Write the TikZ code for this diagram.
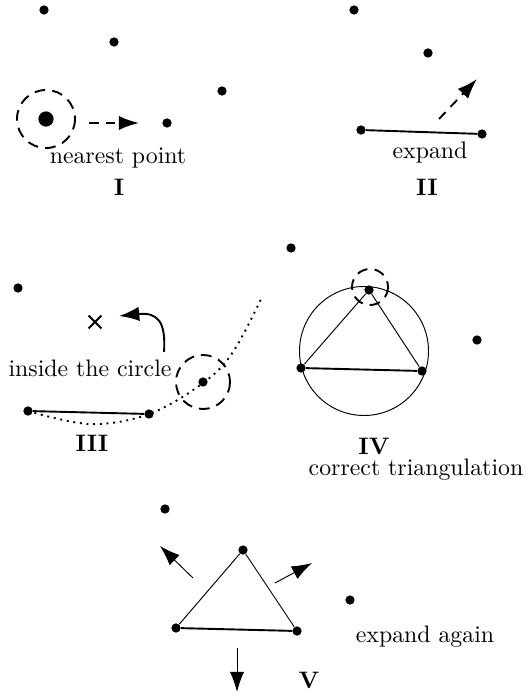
\documentclass[tikz,border=0pt]{standalone}
\usetikzlibrary{arrows.meta,shapes.misc}
\begin{document}
\begin{tikzpicture}[x=0.42pt,y=-0.42pt,
  pt/.style={circle,fill=black,inner sep=0pt,minimum size=3.9pt},
  bigpt/.style={circle,fill=black,inner sep=0pt,minimum size=6.4pt},
  dcirc/.style={draw,thick,dash pattern=on 4.5pt off 3pt},
  dline/.style={thick,dash pattern=on 4pt off 3pt},
  edge/.style={thick},
  tri/.style={line width=0.4pt},
  arr/.style={-{Latex[length=8.5pt,width=6pt]}},
  lbl/.style={font=\normalsize,inner sep=0pt}]
\useasboundingbox (0,0) rectangle (530,698);
% Panel I
\node[pt] (a1) at (44,10) {};
\node[pt] (a2) at (114,42) {};
\node[pt] (a3) at (222,91) {};
\node[pt] (a4) at (167,123) {};
\node[bigpt] (a0) at (46,119) {};
\draw[dcirc] (a0) circle (29);
\coordinate (ia) at (89,123);
\coordinate (ib) at (139,123);
\draw[arr,dline] (ia) -- (ib);
\node[lbl] (t1) at (118,158) {nearest point};
\node[lbl] (r1) at (119,187) {\textbf{I}};
% Panel II
\node[pt] (b1) at (354,10) {};
\node[pt] (b2) at (428,53) {};
\node[pt] (b3) at (361,130) {};
\node[pt] (b4) at (482,134) {};
\draw[edge] (b3) -- (b4);
\coordinate (ea) at (439,119);
\coordinate (eb) at (477,79);
\draw[arr,dline] (ea) -- (eb);
\node[lbl] (t2) at (430,153) {expand};
\node[lbl] (r2) at (427,187) {\textbf{II}};
% Panel III
\node[pt] (c1) at (18,288) {};
\node[draw,cross out,thick,inner sep=0pt,minimum size=4.6pt] (cx) at (95,322) {};
\node[pt] (c2) at (28,411) {};
\node[pt] (c3) at (149,414) {};
\node[pt] (c4) at (203,382) {};
\draw[edge] (c2) -- (c3);
\draw[dotted,thick] plot[smooth,tension=0.6] coordinates {(28,411) (90,424) (149,414) (203,383) (233,352) (262,297)};
\draw[dcirc] (c4) circle (27);
\coordinate (ca) at (164,352);
\coordinate (cb) at (119,316);
\draw[arr,thick] (ca) .. controls (166,322) and (158,312) .. (cb);
\node[lbl] (t3) at (90,368) {inside the circle};
\node[lbl] (r3) at (92,443) {\textbf{III}};
% Panel IV
\node[pt] (d1) at (291,248) {};
\node[pt] (d2) at (477,340) {};
\draw[tri] (364,351) circle (64.5);
\node[pt] (d3) at (369,290) {};
\node[pt] (d4) at (301,368) {};
\node[pt] (d5) at (422,371) {};
\draw[tri] (d4) -- (d3) -- (d5);
\draw[edge] (d4) -- (d5);
\draw[dcirc] (370,287) circle (18);
\node[lbl] (r4) at (374,446) {\textbf{IV}};
\node[lbl] (t4) at (416,470) {correct triangulation};
% Panel V
\node[pt] (e1) at (165,509) {};
\node[pt] (e2) at (243,550) {};
\node[pt] (e3) at (176,628) {};
\node[pt] (e4) at (297,631) {};
\node[pt] (e5) at (350,600) {};
\draw[tri] (e3) -- (e2) -- (e4);
\draw[edge] (e3) -- (e4);
\coordinate (v1a) at (193,578);
\coordinate (v1b) at (160,546);
\coordinate (v2a) at (275,583);
\coordinate (v2b) at (312,563);
\coordinate (v3a) at (237,648);
\coordinate (v3b) at (237,692);
\draw[arr,tri] (v1a) -- (v1b);
\draw[arr,tri] (v2a) -- (v2b);
\draw[arr,tri] (v3a) -- (v3b);
\node[lbl] (t5) at (425,637) {expand again};
\node[lbl] (r5) at (309,680) {\textbf{V}};
\end{tikzpicture}
\end{document}
